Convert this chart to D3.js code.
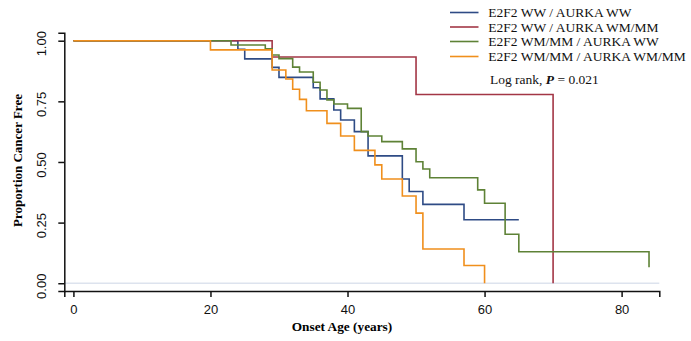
<!DOCTYPE html>
<html>
<head>
<meta charset="utf-8">
<script src="https://cdn.jsdelivr.net/npm/d3@7"></script>
<style>
  body { margin: 0; background: #fff; }
</style>
</head>
<body>
<svg id="chart" width="691" height="341"></svg>
<script>
// group names (legend order = drawing order)
var group_names = ["E2F2 WW / AURKA WW", "E2F2 WW / AURKA WM/MM", "E2F2 WM/MM / AURKA WW", "E2F2 WM/MM / AURKA WM/MM"];
var group_colors = ["#2e4b85", "#a33646", "#5e8236", "#f08f1c"];

// KM steps: time of each drop, survival after it, last point ends the line
var ww_ww_time = [0, 24, 25, 29, 30, 35, 36, 38, 39, 41, 43, 48, 49, 51, 57, 65];
var ww_ww_surv = [1, 0.965, 0.925, 0.89, 0.849, 0.806, 0.76, 0.714, 0.673, 0.625, 0.525, 0.43, 0.378, 0.325, 0.262, 0.262];

var ww_wm_time = [0, 29, 50, 70];
var ww_wm_surv = [1, 0.933, 0.778, 0];

var wm_ww_time = [0, 23, 28, 29, 30, 32, 33, 35, 36, 37, 38, 40, 42, 43, 45, 48, 50, 51, 52, 59, 60, 63, 65, 84];
var wm_ww_surv = [1, 0.982, 0.967, 0.941, 0.926, 0.891, 0.871, 0.829, 0.797, 0.756, 0.739, 0.721, 0.625, 0.607, 0.584, 0.554, 0.501, 0.471, 0.435, 0.385, 0.33, 0.202, 0.13, 0.066];

var wm_wm_time = [0, 20, 29, 31, 32, 33, 34, 37, 39, 41, 44, 45, 48, 50, 51, 57, 60];
var wm_wm_surv = [1, 0.962, 0.879, 0.842, 0.8, 0.758, 0.711, 0.659, 0.607, 0.548, 0.488, 0.43, 0.36, 0.289, 0.141, 0.073, 0];

var x_ticks = [0, 20, 40, 60, 80];
var y_ticks = [0, 0.25, 0.5, 0.75, 1];

var svg = d3.select("#chart");

var x = d3.scaleLinear().domain([-1.33, 85.5]).range([64.3, 659.3]);
var y = d3.scaleLinear().domain([-0.032, 1.033]).range([291, 32.7]);

// light reference line at zero
svg.append("line")
    .attr("x1", x.range()[0]).attr("x2", x.range()[1])
    .attr("y1", y(0)).attr("y2", y(0))
    .attr("stroke", "#dde3ee")
    .attr("stroke-width", 1.5);

var curves = [
    [ww_ww_time, ww_ww_surv],
    [ww_wm_time, ww_wm_surv],
    [wm_ww_time, wm_ww_surv],
    [wm_wm_time, wm_wm_surv]
];

var step_line = d3.line()
    .x(function (d) { return x(d[0]); })
    .y(function (d) { return y(d[1]); })
    .curve(d3.curveStepAfter);

for (var i = 0; i < curves.length; i++) {
    var pts = [];
    for (var j = 0; j < curves[i][0].length; j++) {
        pts.push([curves[i][0][j], curves[i][1][j]]);
    }
    svg.append("path")
        .attr("d", step_line(pts))
        .attr("fill", "none")
        .attr("stroke", group_colors[i])
        .attr("stroke-width", 1.6);
}

// axes
var x_axis = svg.append("g")
    .attr("transform", "translate(0," + y.range()[0] + ")")
    .call(d3.axisBottom(x).tickValues(x_ticks).tickSizeOuter(0).tickSize(6).tickPadding(8));
x_axis.selectAll("text")
    .style("font-family", "'Liberation Sans', Arial, sans-serif")
    .style("font-size", "13px")
    .attr("fill", "#111");

var y_axis = svg.append("g")
    .attr("transform", "translate(" + x.range()[0] + ",0)")
    .call(d3.axisLeft(y).tickValues(y_ticks).tickSizeOuter(0).tickSize(6).tickFormat(d3.format(".2f")));
y_axis.selectAll("text")
    .attr("x", 0).attr("dy", 0)
    .attr("transform", "translate(-18.5,2.5) rotate(-90)")
    .attr("text-anchor", "middle")
    .style("font-family", "'Liberation Sans', Arial, sans-serif")
    .style("font-size", "13px")
    .attr("fill", "#111");

svg.selectAll(".domain, .tick line")
    .attr("stroke", "#111")
    .attr("stroke-width", 1.5);

// axis titles
svg.append("text")
    .attr("x", 342).attr("y", 330.5)
    .attr("text-anchor", "middle")
    .style("font-family", "'Liberation Serif', 'Times New Roman', serif")
    .style("font-weight", "bold")
    .style("font-size", "13.3px")
    .text("Onset Age (years)");

svg.append("text")
    .attr("transform", "translate(22,160.5) rotate(-90)")
    .attr("text-anchor", "middle")
    .style("font-family", "'Liberation Serif', 'Times New Roman', serif")
    .style("font-weight", "bold")
    .style("font-size", "13px")
    .text("Proportion Cancer Free");

// legend
var legend_y = [12.5, 27, 41.5, 56.5];
var legend = svg.append("g");
legend.selectAll("g")
    .data(group_names)
    .enter()
    .append("g")
    .attr("transform", function (d, i) {
        return "translate(0," + legend_y[i] + ")";
    })
    .each(function (d, i) {
        d3.select(this)
            .append("line")
            .attr("x1", 450).attr("x2", 478.5)
            .attr("y1", 0).attr("y2", 0)
            .attr("stroke", group_colors[i])
            .attr("stroke-width", 1.6);
        d3.select(this)
            .append("text")
            .attr("x", 488.3)
            .attr("y", 4.6)
            .style("font-family", "'Liberation Serif', 'Times New Roman', serif")
            .style("font-size", "13.5px")
            .attr("fill", "#111")
            .text(d);
    });

var p_text = svg.append("text")
    .attr("x", 490).attr("y", 83.6)
    .style("font-family", "'Liberation Serif', 'Times New Roman', serif")
    .style("font-size", "13.5px")
    .attr("fill", "#111");
p_text.append("tspan").text("Log rank, ");
p_text.append("tspan").style("font-style", "italic").style("font-weight", "bold").text("P");
p_text.append("tspan").text(" = 0.021");
</script>
</body>
</html>
